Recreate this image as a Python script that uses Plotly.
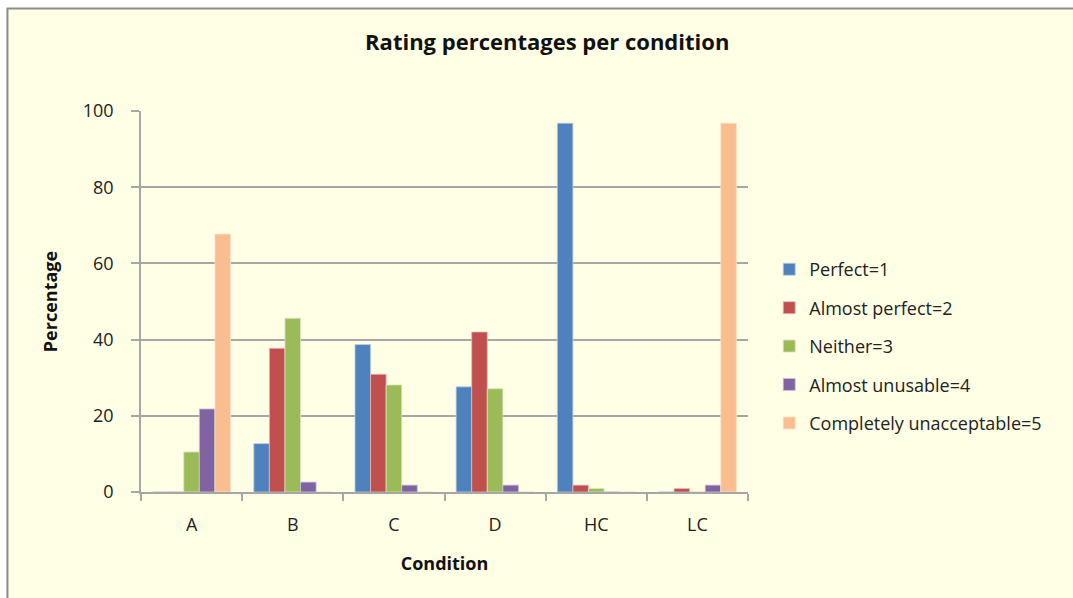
import plotly.graph_objects as go

conditions = ["A", "B", "C", "D", "HC", "LC"]
series_names = [
    "Perfect=1",
    "Almost perfect=2",
    "Neither=3",
    "Almost unusable=4",
    "Completely unacceptable=5",
]
perfect = [0, 12.7, 38.7, 27.6, 96.8, 0]
almost_perfect = [0, 37.7, 30.9, 42.0, 1.8, 0.9]
neither = [10.5, 45.6, 28.1, 27.1, 0.9, 0]
almost_unusable = [21.8, 2.6, 1.8, 1.8, 0, 1.8]
completely_unacceptable = [67.7, 0, 0, 0, 0, 96.8]
y_ticks = [0, 20, 40, 60, 80, 100]

series_values = [perfect, almost_perfect, neither, almost_unusable, completely_unacceptable]
colors = ["#4F81BD", "#C0504D", "#9BBB59", "#8064A2", "#F9BE8F"]
edge_colors = ["#B9CDE5", "#E6B9B8", "#D7E4BD", "#CCC1DA", "#FDE0C8"]

font_family = "Open Sans, Noto Sans, DejaVu Sans, sans-serif"
bg = "#FFFFE5"

fig = go.Figure()
for i, (name, vals) in enumerate(zip(series_names, series_values)):
    fig.add_trace(go.Bar(
        x=conditions,
        y=vals,
        name=name,
        legendgroup=name,
        marker=dict(color=colors[i], line=dict(color=edge_colors[i], width=0.8)),
    ))

fig.update_layout(
    width=1073,
    height=598,
    paper_bgcolor="white",
    plot_bgcolor="rgba(0,0,0,0)",
    barmode="group",
    bargap=0.23,
    bargroupgap=0,
    margin=dict(l=141, r=325, t=111, b=106),
    font=dict(family=font_family, size=18, color="#222222"),
    title=dict(
        text="<b>Rating percentages per condition</b>",
        x=0.51, xanchor="center", y=0.93, yanchor="middle",
        font=dict(size=22, color="#111111"),
    ),
    legend=dict(
        x=1.035, xanchor="left", y=0.383, yanchor="middle",
        bgcolor="rgba(0,0,0,0)",
        font=dict(size=18, color="#222222"),
        tracegroupgap=12,
        itemwidth=30,
    ),
    xaxis=dict(
        type="category",
        showline=True, linecolor="#A6A6A6", linewidth=1.5,
        ticks="outside", ticklen=7, tickcolor="#A6A6A6", tickwidth=1.5,
        tickson="boundaries",
        ticklabelstandoff=16,
        showgrid=False,
        title=dict(text="<b>Condition</b>", font=dict(size=18, color="#111111"), standoff=22),
    ),
    yaxis=dict(
        range=[0, 100],
        tickvals=y_ticks,
        showline=True, linecolor="#A6A6A6", linewidth=1.5,
        ticks="outside", ticklen=8, tickcolor="#A6A6A6", tickwidth=1.5,
        ticklabelstandoff=14,
        showgrid=True, gridcolor="#A6A6A6", gridwidth=1.5,
        zeroline=False,
        title=dict(text="<b>Percentage</b>", font=dict(size=18, color="#111111"), standoff=20),
    ),
    shapes=[
        dict(
            type="rect", xref="paper", yref="paper",
            x0=-0.22, x1=1.62, y0=-0.32, y1=1.269,
            line=dict(color="#8C8C8C", width=2),
            fillcolor=bg, layer="below",
        )
    ],
)

fig.write_html("out.html")
